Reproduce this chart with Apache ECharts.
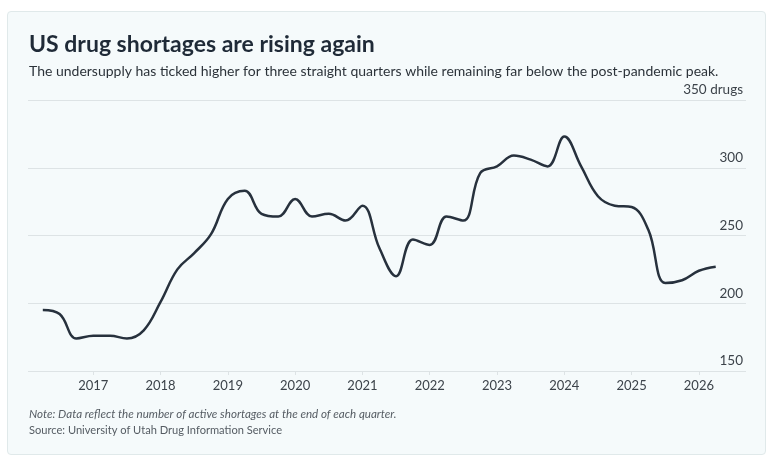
<!DOCTYPE html>
<html>
<head>
<meta charset="utf-8">
<script src="https://cdn.jsdelivr.net/npm/echarts@6/dist/echarts.min.js"></script>
<style>
    html, body { margin: 0; padding: 0; background: #ffffff; }
    #card {
        position: absolute; left: 7px; top: 11px; width: 757px; height: 442px;
        background: #f5fafb; border: 1px solid #e0e9ea; border-radius: 4px;
    }
    #chart { position: absolute; left: 0; top: 0; width: 773px; height: 461px; }
</style>
</head>
<body>
<div id="card"></div>
<div id="chart"></div>
<script>
// quarter-end positions (decimal years) and active shortages
var quarters = [
    2016.25, 2016.5, 2016.75, 2017.0, 2017.25, 2017.5, 2017.75, 2018.0,
    2018.25, 2018.5, 2018.75, 2019.0, 2019.25, 2019.5, 2019.75, 2020.0,
    2020.25, 2020.5, 2020.75, 2021.0, 2021.25, 2021.5, 2021.75, 2022.0,
    2022.25, 2022.5, 2022.75, 2023.0, 2023.25, 2023.5, 2023.75, 2024.0,
    2024.25, 2024.5, 2024.75, 2025.0, 2025.25, 2025.5, 2025.75, 2026.0,
    2026.25
];
var shortages = [
    195, 192, 174, 176, 176, 174, 180, 201,
    225, 237, 251, 277, 283, 266, 264, 277,
    264, 266, 261, 272, 241, 220, 247, 243,
    264, 261, 296, 301, 309, 306, 301, 323,
    301, 279, 272, 271, 254, 215, 217, 224,
    227
];
var yearTicks = [2017, 2018, 2019, 2020, 2021, 2022, 2023, 2024, 2025, 2026];

var font = 'Lato, "Open Sans", sans-serif';
var gridColor = '#dde3e5';

var chart = echarts.init(document.getElementById('chart'));
chart.setOption({
    backgroundColor: 'transparent',
    animation: false,
    title: [{
        text: 'US drug shortages are rising again',
        left: 24, top: 28,
        textStyle: {fontFamily: font, fontSize: 23, fontWeight: 'bold', color: '#1f2a37'}
    }, {
        text: 'The undersupply has ticked higher for three straight quarters while remaining far below the post-pandemic peak.',
        left: 24, top: 59,
        textStyle: {fontFamily: font, fontSize: 14, fontWeight: 'normal', color: '#2c333a'}
    }, {
        text: 'Note: Data reflect the number of active shortages at the end of each quarter.',
        left: 24, top: 403,
        textStyle: {fontFamily: font, fontSize: 11.6, fontStyle: 'italic', fontWeight: 'normal', color: '#555c63'}
    }, {
        text: 'Source: University of Utah Drug Information Service',
        left: 24, top: 420,
        textStyle: {fontFamily: font, fontSize: 11.1, fontWeight: 'normal', color: '#555c63'}
    }],
    grid: {left: 28, right: 27, top: 100, bottom: 90},
    xAxis: {
        type: 'value',
        min: 2016.03,
        max: 2026.7,
        axisLine: {show: false},
        splitLine: {show: false},
        axisTick: {
            show: true, length: 4, customValues: yearTicks,
            lineStyle: {color: gridColor}
        },
        axisLabel: {
            customValues: yearTicks, margin: 8,
            fontFamily: font, fontSize: 13, color: '#3c434a',
            formatter: function (v) { return String(Math.round(v)); }
        }
    },
    yAxis: {
        type: 'value',
        position: 'right',
        min: 150,
        max: 350,
        interval: 50,
        axisLine: {show: false},
        axisTick: {show: false},
        splitLine: {lineStyle: {color: gridColor, width: 1}},
        axisLabel: {
            inside: true, margin: 3,
            verticalAlign: 'bottom', padding: [0, 0, 3, 0],
            fontFamily: font, fontSize: 13.5, color: '#3c434a',
            formatter: function (v) { return v === 350 ? '350 drugs' : String(v); }
        }
    },
    series: [{
        type: 'line',
        data: quarters.map(function (q, i) { return [q, shortages[i]]; }),
        smooth: 0.4,
        symbol: 'none',
        lineStyle: {color: '#27313d', width: 2.5}
    }]
});
</script>
</body>
</html>
